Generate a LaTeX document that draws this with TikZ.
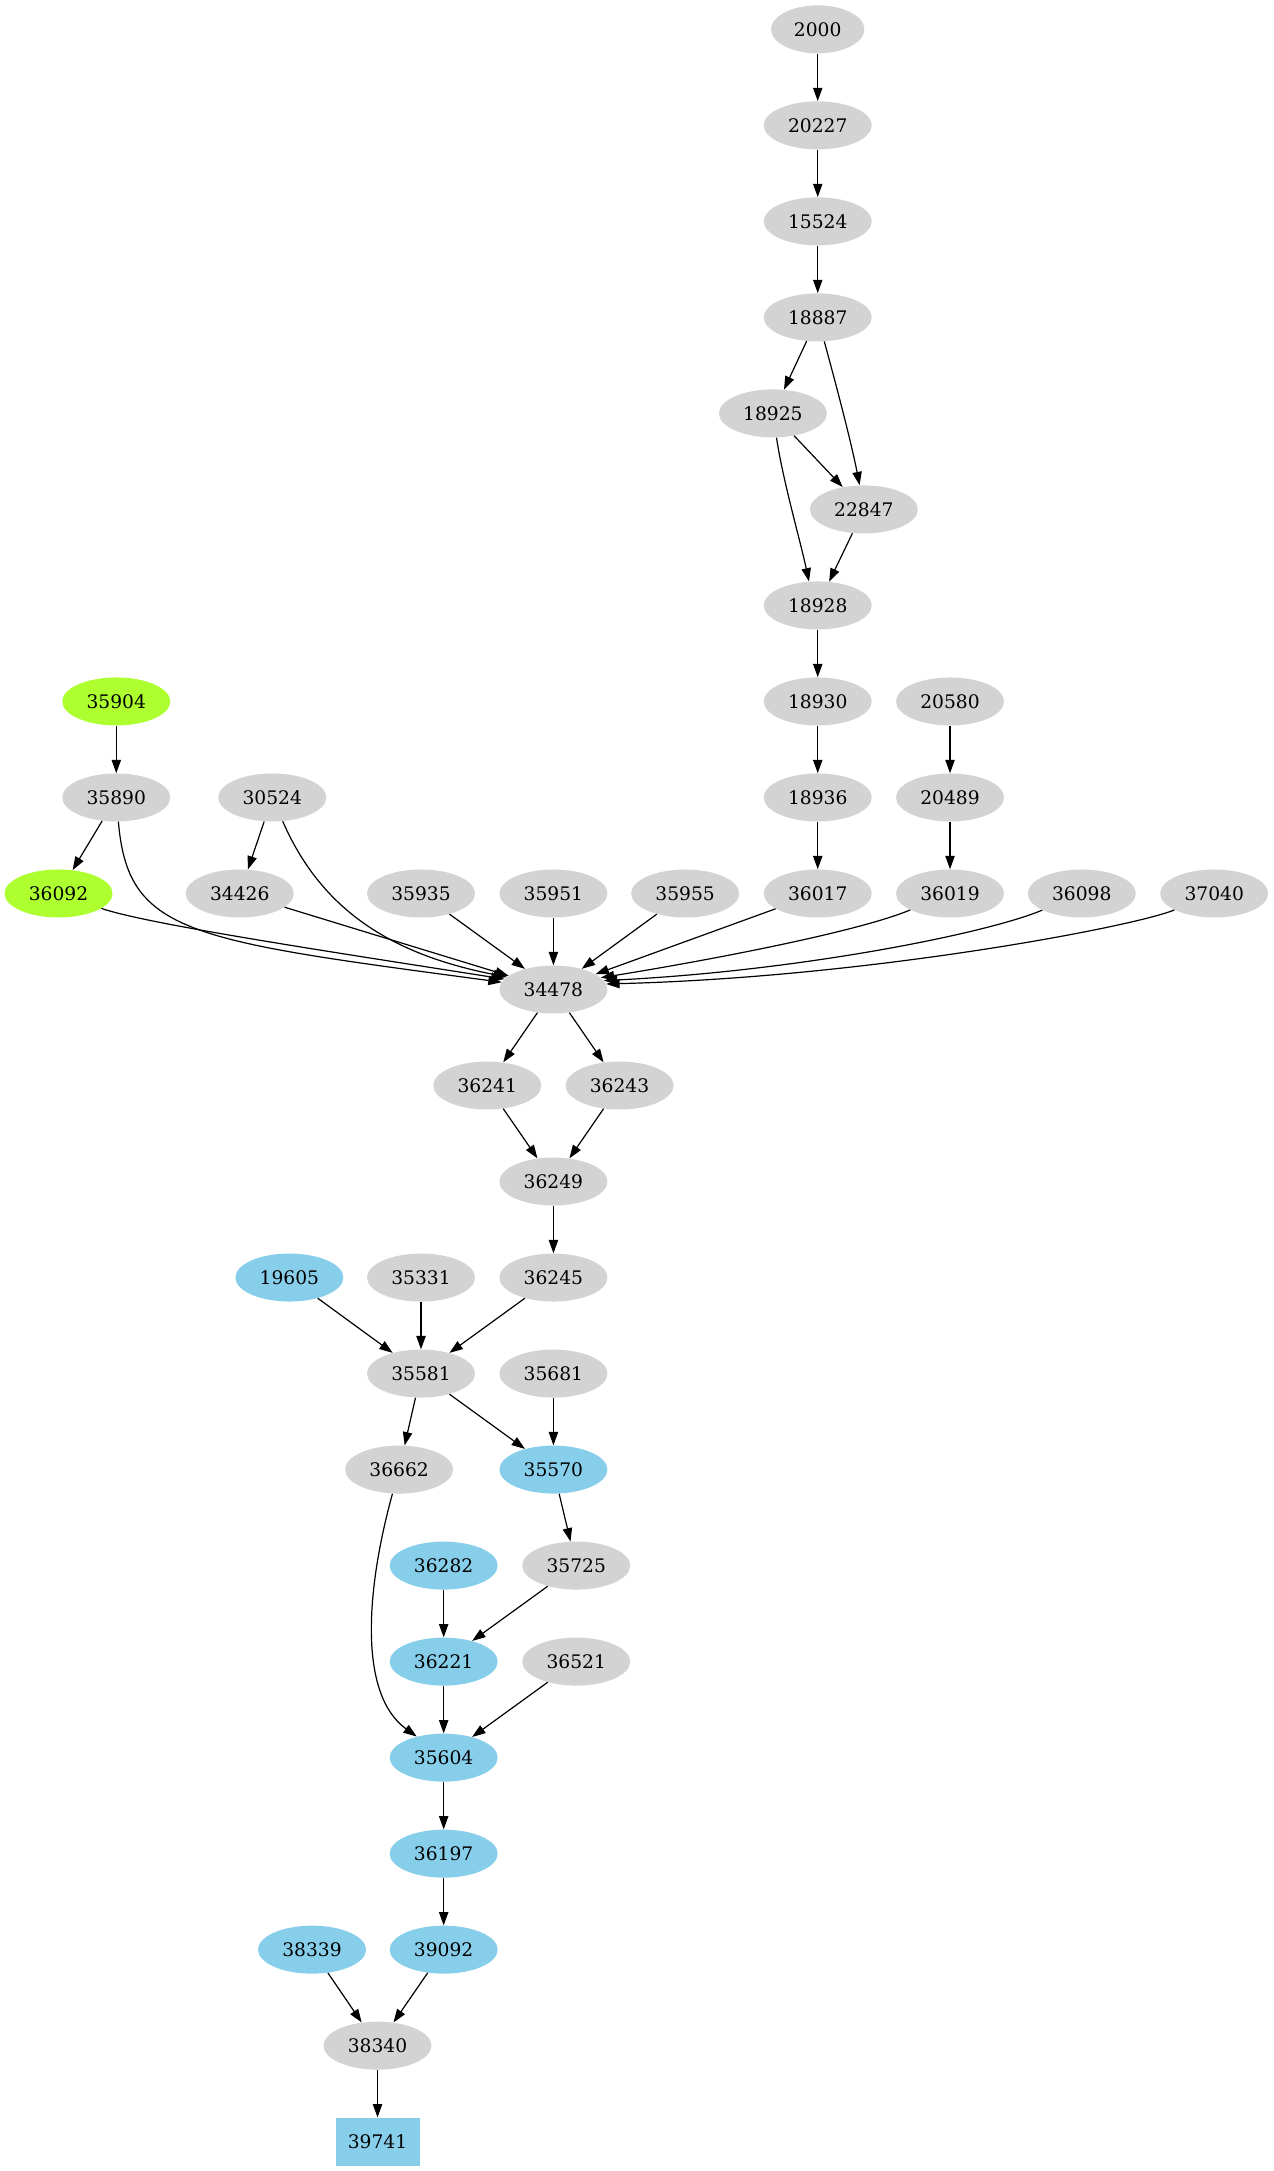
\documentclass[tikz,border=0pt]{standalone}
\usepackage{fontspec}
\setmainfont{DejaVu Serif}
\usetikzlibrary{shapes.geometric,arrows.meta}
\definecolor{gvgray}{HTML}{D3D3D3}
\definecolor{gvgreen}{HTML}{ADFF2F}
\definecolor{gvblue}{HTML}{87CEEB}
\tikzset{
  gn/.style={ellipse, fill=gvgray, draw=none, minimum width=81pt, minimum height=36pt, inner sep=0pt, font=\fontsize{14}{16}\selectfont},
  grn/.style={gn, fill=gvgreen},
  blu/.style={gn, fill=gvblue},
  bbox/.style={rectangle, fill=gvblue, draw=none, minimum width=63pt, minimum height=36pt, inner sep=0pt, font=\fontsize{14}{16}\selectfont},
  conn/.style={line width=0.9pt, -{Triangle[length=10pt,width=7pt]}}
}
\begin{document}
\begin{tikzpicture}[x=1pt,y=-1pt]
\useasboundingbox (0,0) rectangle (954.75,1628);
% nodes
\node[gn, minimum width=70pt] (n2000) at (613.2,22) {2000};
\node[gn] (n20227) at (613.2,94) {20227};
\node[gn] (n15524) at (613.2,166) {15524};
\node[gn] (n18887) at (613.2,238) {18887};
\node[gn] (n18925) at (579.6,310) {18925};
\node[gn] (n22847) at (647.8,382) {22847};
\node[gn] (n18928) at (613.2,454) {18928};
\node[grn] (n35904) at (87.2,526) {35904};
\node[gn] (n18930) at (613.2,526) {18930};
\node[gn] (n20580) at (712.4,526) {20580};
\node[gn] (n35890) at (87.2,598) {35890};
\node[gn] (n30524) at (204.2,598) {30524};
\node[gn] (n18936) at (613.2,598) {18936};
\node[gn] (n20489) at (712.4,598) {20489};
\node[grn] (n36092) at (43.9,670) {36092};
\node[gn] (n34426) at (179.8,670) {34426};
\node[gn] (n35935) at (315.7,670) {35935};
\node[gn] (n35951) at (415,670) {35951};
\node[gn] (n35955) at (513.8,670) {35955};
\node[gn] (n36017) at (613.2,670) {36017};
\node[gn] (n36019) at (712.4,670) {36019};
\node[gn] (n36098) at (811.2,670) {36098};
\node[gn] (n37040) at (910.5,670) {37040};
\node[gn] (n34478) at (415,742) {34478};
\node[gn] (n36241) at (365.4,814) {36241};
\node[gn] (n36243) at (464.6,814) {36243};
\node[gn] (n36249) at (415,886) {36249};
\node[blu] (n19605) at (217,958) {19605};
\node[gn] (n35331) at (315.7,958) {35331};
\node[gn] (n36245) at (415,958) {36245};
\node[gn] (n35581) at (315.7,1030) {35581};
\node[gn] (n35681) at (415,1030) {35681};
\node[gn] (n36662) at (299.3,1102) {36662};
\node[blu] (n35570) at (415,1102) {35570};
\node[blu] (n36282) at (332.7,1174) {36282};
\node[gn] (n35725) at (432.1,1174) {35725};
\node[blu] (n36221) at (332.7,1246) {36221};
\node[gn] (n36521) at (432.1,1246) {36521};
\node[blu] (n35604) at (332.7,1318) {35604};
\node[blu] (n36197) at (332.7,1390) {36197};
\node[blu] (n38339) at (234,1462) {38339};
\node[blu] (n39092) at (332.7,1462) {39092};
\node[gn] (n38340) at (283.1,1534) {38340};
\node[bbox] (n39741) at (283.1,1606) {39741};
% edges top chain
\draw[conn] (n2000) -- (n20227);
\draw[conn] (n20227) -- (n15524);
\draw[conn] (n15524) -- (n18887);
\draw[conn] (n18887) -- (n18925);
\draw[conn] (n18887) .. controls (626,285) and (638,330) .. (n22847.100);
\draw[conn] (n18925) -- (n22847);
\draw[conn] (n18925) .. controls (587,360) and (600,405) .. (n18928.110);
\draw[conn] (n22847) -- (n18928);
\draw[conn] (n18928) -- (n18930);
\draw[conn] (n18930) -- (n18936);
\draw[conn] (n18936) -- (n36017);
\draw[conn] (n20580) -- (n20489);
\draw[conn] (n20489) -- (n36019);
\draw[conn] (n35904) -- (n35890);
\draw[conn] (n35890) -- (n36092);
\draw[conn] (n30524) -- (n34426);
% into 34478
\draw[conn] (n35890) .. controls (96,700) and (140,705) .. (n34478.172);
\draw[conn] (n36092) .. controls (110,693) and (250,714) .. (n34478.168);
\draw[conn] (n30524) .. controls (240,680) and (290,715) .. (n34478.165);
\draw[conn] (n34426) -- (n34478);
\draw[conn] (n35935) -- (n34478);
\draw[conn] (n35951) -- (n34478);
\draw[conn] (n35955) -- (n34478);
\draw[conn] (n36017) -- (n34478);
\draw[conn] (n36019) .. controls (640,700) and (520,722) .. (n34478.14);
\draw[conn] (n36098) .. controls (740,700) and (600,728) .. (n34478.10);
\draw[conn] (n37040) .. controls (850,695) and (650,733) .. (n34478.6);
% middle
\draw[conn] (n34478) -- (n36241);
\draw[conn] (n34478) -- (n36243);
\draw[conn] (n36241) -- (n36249);
\draw[conn] (n36243) -- (n36249);
\draw[conn] (n36249) -- (n36245);
\draw[conn] (n19605) -- (n35581);
\draw[conn] (n35331) -- (n35581);
\draw[conn] (n36245) -- (n35581);
\draw[conn] (n35581) -- (n36662);
\draw[conn] (n35581) -- (n35570);
\draw[conn] (n35681) -- (n35570);
\draw[conn] (n35570) -- (n35725);
\draw[conn] (n36282) -- (n36221);
\draw[conn] (n35725) -- (n36221);
\draw[conn] (n36221) -- (n35604);
\draw[conn] (n36521) -- (n35604);
\draw[conn] (n36662) .. controls (275,1190) and (268,1270) .. (n35604.142);
\draw[conn] (n35604) -- (n36197);
\draw[conn] (n36197) -- (n39092);
\draw[conn] (n38339) -- (n38340);
\draw[conn] (n39092) -- (n38340);
\draw[conn] (n38340) -- (n39741);
\end{tikzpicture}
\end{document}
